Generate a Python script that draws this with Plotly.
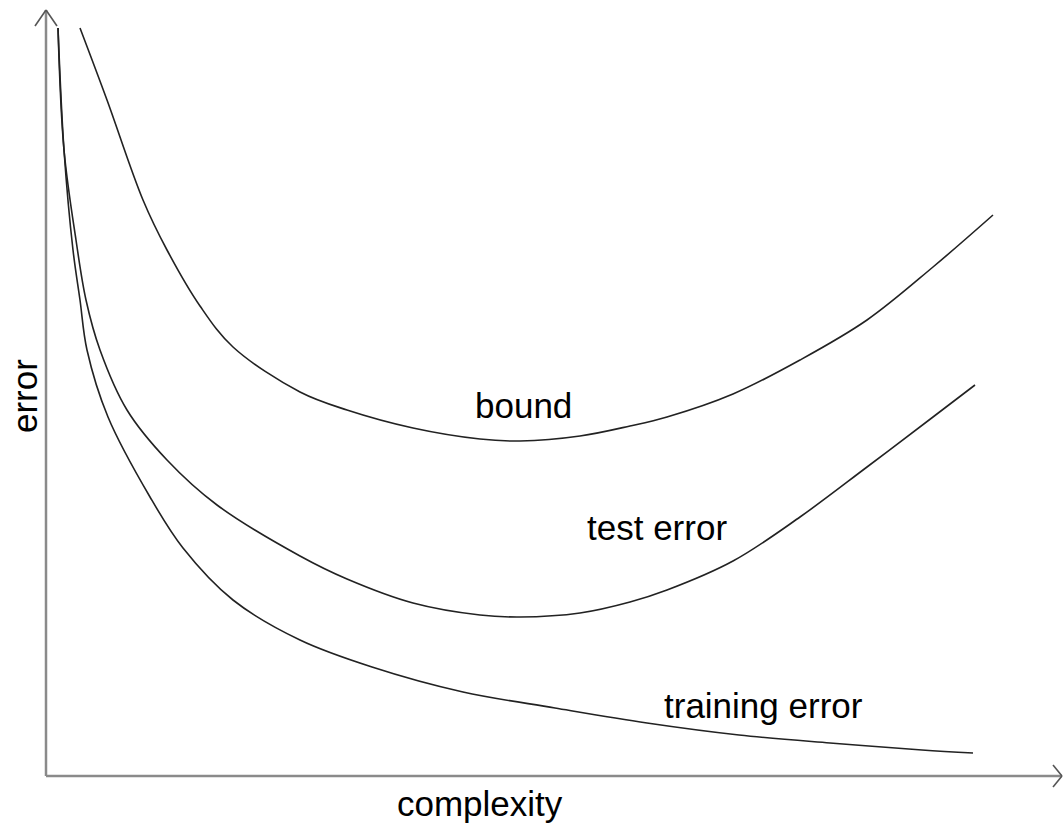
import plotly.graph_objects as go

# Values (arbitrary units: complexity on x, error on y)
train_c = [1.2, 1.8, 2.7, 3.4, 4.1, 6.2, 10.4, 13.7, 18.7, 25.4, 32.6, 41.7, 50.9, 60.1, 69.3, 78.4, 87.6, 92.7]
train_e = [74.8, 62.6, 52.6, 47.6, 42.6, 35.9, 27.9, 22.8, 17.6, 13.6, 10.9, 8.4, 6.8, 5.3, 4.1, 3.3, 2.6, 2.3]

test_c = [1.2, 1.8, 3.0, 4.0, 5.4, 8.1, 12.1, 17.1, 25.4, 30.1, 36.7, 43.4, 47.4, 53.4, 58.4, 62.1, 68.7, 75.4, 82.1, 88.7, 92.9]
test_e = [74.8, 62.6, 53.6, 47.6, 42.6, 36.6, 31.6, 27.1, 22.0, 19.7, 17.3, 16.1, 15.9, 16.3, 17.4, 18.6, 21.5, 25.9, 30.9, 35.9, 39.1]

bound_c = [3.4, 6.1, 9.7, 12.1, 15.4, 18.7, 25.4, 30.1, 36.7, 43.4, 47.4, 53.4, 58.4, 62.1, 68.7, 75.4, 82.1, 88.7, 94.7]
bound_e = [74.8, 67.6, 57.6, 52.6, 47.0, 42.9, 38.4, 36.6, 34.8, 33.7, 33.5, 34.0, 35.0, 35.9, 38.2, 41.6, 45.6, 50.9, 56.1]

labels = ["bound", "test error", "training error"]
label_c = [47.7, 61.1, 71.7]
label_e = [37.1, 24.9, 7.1]

x_title = "complexity"
y_title = "error"

CURVE = "#222222"
AXIS = "#8a8a8a"
FONT = "Liberation Sans, Arial, sans-serif"
FS = 35

fig = go.Figure()
for c, e, name in [(bound_c, bound_e, "bound"), (test_c, test_e, "test error"), (train_c, train_e, "training error")]:
    fig.add_trace(go.Scatter(x=c, y=e, mode="lines", name=name,
                             line=dict(color=CURVE, width=1.6, shape="spline", smoothing=1.0),
                             hoverinfo="skip", showlegend=False))

# axes drawn as arrows
y_top = 76.6
x_end = 101.6
shapes = [
    dict(type="line", x0=0, y0=0, x1=0, y1=y_top, line=dict(color=AXIS, width=2.5)),
    dict(type="line", x0=0, y0=0, x1=x_end, y1=0, line=dict(color=AXIS, width=2.5)),
    dict(type="line", x0=-1.1, y0=75.0, x1=0, y1=y_top, line=dict(color="#555", width=1.6)),
    dict(type="line", x0=1.1, y0=75.0, x1=0, y1=y_top, line=dict(color="#555", width=1.6)),
    dict(type="line", x0=100.7, y0=1.1, x1=x_end, y1=0, line=dict(color="#555", width=1.6)),
    dict(type="line", x0=100.7, y0=-1.1, x1=x_end, y1=0, line=dict(color="#555", width=1.6)),
]

annotations = []
for t, c, e in zip(labels, label_c, label_e):
    annotations.append(dict(x=c, y=e, text=t, showarrow=False, xanchor="center", yanchor="middle",
                            font=dict(family=FONT, size=FS, color="black")))
annotations.append(dict(x=43.4, y=-2.7, text=x_title, showarrow=False, xanchor="center", yanchor="middle",
                        font=dict(family=FONT, size=FS, color="black")))
annotations.append(dict(x=-2.2, y=38.0, text=y_title, showarrow=False, textangle=-90,
                        xanchor="center", yanchor="middle",
                        font=dict(family=FONT, size=FS, color="black")))

fig.update_layout(
    width=1063, height=824, autosize=False,
    margin=dict(l=0, r=0, t=0, b=0),
    paper_bgcolor="white", plot_bgcolor="white",
    xaxis=dict(range=[-4.6, 101.7], visible=False, fixedrange=True),
    yaxis=dict(range=[-4.8, 77.6], visible=False, fixedrange=True),
    shapes=shapes, annotations=annotations,
)

fig.write_html("out.html", config={"displayModeBar": False},
               post_script="document.body.style.margin='0';document.body.style.overflow='hidden';")
